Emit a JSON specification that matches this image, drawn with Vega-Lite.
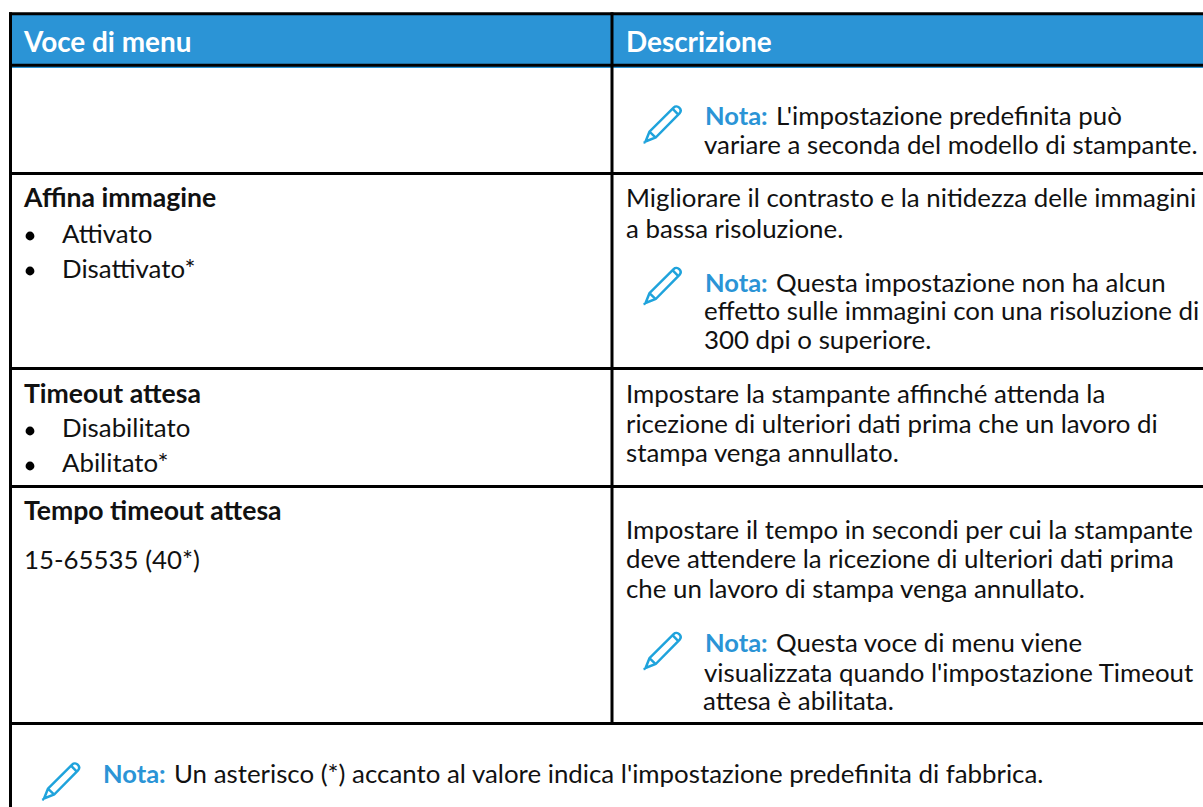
{
 "$schema":"https://vega.github.io/schema/vega-lite/v6.json",
 "width":1203,"height":807,"padding":0,"autosize":{"type":"none"},
 "background":"white",
 "config":{"view":{"stroke":null},"axis":{"disable":true}},
 "datasets":{
  "fills":[{"x1":10,"x2":1203,"y1":15,"y2":68}],
  "lines":[
   {"x1":9,"x2":1203,"y":13.7},{"x1":9,"x2":1203,"y":65.3},{"x1":9,"x2":1203,"y":173.5},{"x1":9,"x2":1203,"y":368.5},{"x1":9,"x2":1203,"y":486.5},{"x1":9,"x2":1203,"y":723.5}],
  "vlines":[{"x":10.5,"y1":12.2,"y2":807},{"x":612,"y1":12.2,"y2":723}],
  "head":[{"t":"Voce di menu","x":24,"y":52},{"t":"Descrizione","x":626,"y":52}],
  "bold":[{"t":"Affina immagine","x":24,"y":207},{"t":"Timeout attesa","x":24,"y":403},{"t":"Tempo timeout attesa","x":24,"y":520}],
  "nota":[{"t":"Nota:","x":705,"y":125},{"t":"Nota:","x":705,"y":292},{"t":"Nota:","x":705,"y":652},{"t":"Nota:","x":103,"y":783}],
  "body":[
   {"t":"L'impostazione predefinita può","x":776,"y":125},
   {"t":"variare a seconda del modello di stampante.","x":704,"y":154},
   {"t":"Attivato","x":62,"y":243},
   {"t":"Disattivato*","x":62,"y":278},
   {"t":"Migliorare il contrasto e la nitidezza delle immagini","x":626,"y":207},
   {"t":"a bassa risoluzione.","x":626,"y":238},
   {"t":"Questa impostazione non ha alcun","x":776,"y":292},
   {"t":"effetto sulle immagini con una risoluzione di","x":704,"y":320},
   {"t":"300 dpi o superiore.","x":704,"y":349},
   {"t":"Disabilitato","x":62,"y":437},
   {"t":"Abilitato*","x":62,"y":472},
   {"t":"Impostare la stampante affinché attenda la","x":626,"y":403},
   {"t":"ricezione di ulteriori dati prima che un lavoro di","x":626,"y":433},
   {"t":"stampa venga annullato.","x":626,"y":462},
   {"t":"15-65535 (40*)","x":24,"y":569},
   {"t":"Impostare il tempo in secondi per cui la stampante","x":626,"y":539},
   {"t":"deve attendere la ricezione di ulteriori dati prima","x":626,"y":568},
   {"t":"che un lavoro di stampa venga annullato.","x":626,"y":598},
   {"t":"Questa voce di menu viene","x":776,"y":652},
   {"t":"visualizzata quando l'impostazione Timeout","x":704,"y":682},
   {"t":"attesa è abilitata.","x":703,"y":710},
   {"t":"Un asterisco (*) accanto al valore indica l'impostazione predefinita di fabbrica.","x":174,"y":783}
  ],
  "bullets":[{"x":30,"y":236},{"x":30,"y":271},{"x":30,"y":431},{"x":30,"y":466}],
  "icons":[{"x":663.5,"y":123.5},{"x":663.5,"y":285},{"x":663.5,"y":650},{"x":62,"y":780.5}]
 },
 "encoding":{},
 "layer":[
  {"data":{"name":"fills"},"mark":{"type":"rect","color":"#2b94d6"},
   "encoding":{"x":{"field":"x1","type":"quantitative","scale":{"domain":[0,1203],"nice":false,"zero":false},"axis":null},"x2":{"field":"x2"},
   "y":{"field":"y1","type":"quantitative","scale":{"domain":[0,807],"reverse":true,"nice":false,"zero":false},"axis":null},"y2":{"field":"y2"}}},
  {"data":{"name":"lines"},"mark":{"type":"rule","color":"#000","strokeWidth":3},
   "encoding":{"x":{"field":"x1","type":"quantitative","axis":null},"x2":{"field":"x2"},"y":{"field":"y","type":"quantitative","axis":null}}},
  {"data":{"name":"vlines"},"mark":{"type":"rule","color":"#000","strokeWidth":3},
   "encoding":{"x":{"field":"x","type":"quantitative","axis":null},"y":{"field":"y1","type":"quantitative","axis":null},"y2":{"field":"y2"}}},
  {"data":{"name":"head"},"mark":{"type":"text","align":"left","baseline":"alphabetic","font":"Lato","fontSize":27.9,"fontWeight":"bold","color":"white"},
   "encoding":{"x":{"field":"x","type":"quantitative","axis":null},"y":{"field":"y","type":"quantitative","axis":null},"text":{"field":"t"}}},
  {"data":{"name":"bold"},"mark":{"type":"text","align":"left","baseline":"alphabetic","font":"Lato","fontSize":26.6,"fontWeight":"bold","color":"#111"},
   "encoding":{"x":{"field":"x","type":"quantitative","axis":null},"y":{"field":"y","type":"quantitative","axis":null},"text":{"field":"t"}}},
  {"data":{"name":"nota"},"mark":{"type":"text","align":"left","baseline":"alphabetic","font":"Lato","fontSize":25.5,"fontWeight":"bold","color":"#2b94d6"},
   "encoding":{"x":{"field":"x","type":"quantitative","axis":null},"y":{"field":"y","type":"quantitative","axis":null},"text":{"field":"t"}}},
  {"data":{"name":"body"},"mark":{"type":"text","align":"left","baseline":"alphabetic","font":"Lato","fontSize":25.85,"color":"#111"},
   "encoding":{"x":{"field":"x","type":"quantitative","axis":null},"y":{"field":"y","type":"quantitative","axis":null},"text":{"field":"t"}}},
  {"data":{"name":"bullets"},"mark":{"type":"point","filled":true,"shape":"circle","size":78,"color":"#000","opacity":1},
   "encoding":{"x":{"field":"x","type":"quantitative","axis":null},"y":{"field":"y","type":"quantitative","axis":null}}},
  {"data":{"name":"icons"},"mark":{"type":"point","filled":false,"size":1521,"color":"#1fa3dc","opacity":1,"strokeWidth":2.5,
    "shape":"M-0.92 0.92 L-0.72 0.42 L0.52 -0.82 C0.7 -1 1 -0.72 0.82 -0.52 L-0.4 0.72 Z M-0.72 0.42 L-0.4 0.72 M0.46 -0.76 L0.76 -0.46 M-1 1 L-0.96 0.96"},
   "encoding":{"x":{"field":"x","type":"quantitative","axis":null},"y":{"field":"y","type":"quantitative","axis":null}}}
 ]
}
